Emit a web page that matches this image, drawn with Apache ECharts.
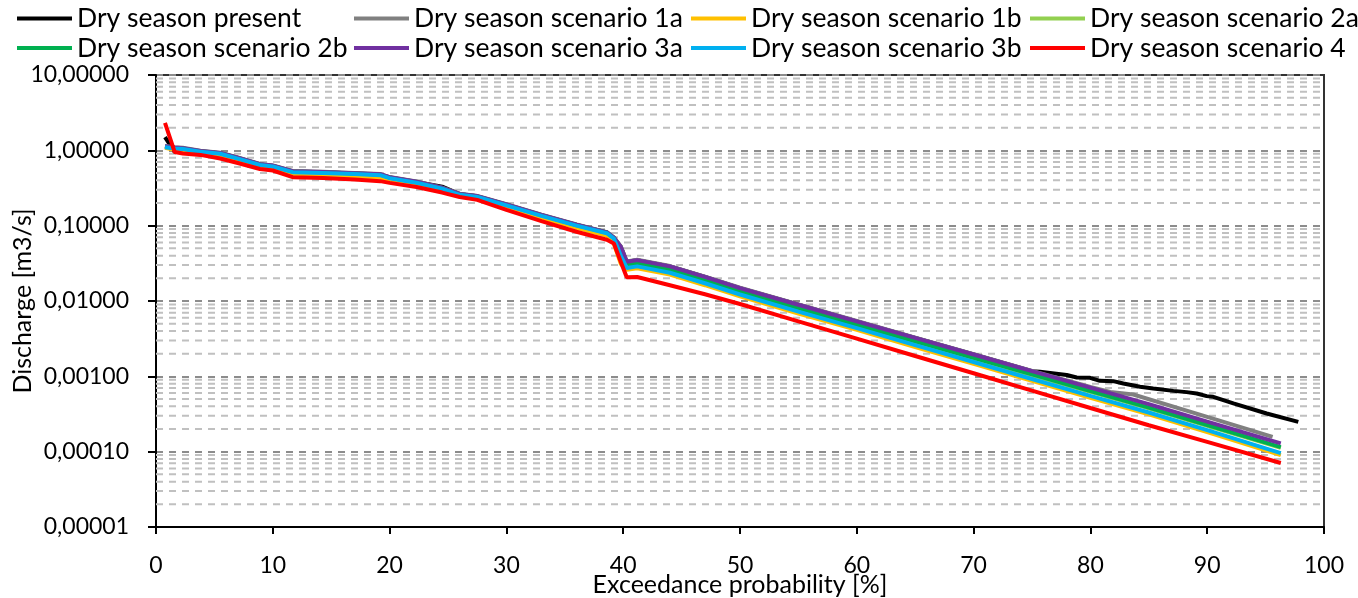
<!DOCTYPE html>
<html><head><meta charset="utf-8">
<script src="https://cdn.jsdelivr.net/npm/echarts@6/dist/echarts.min.js"></script>
<style>html,body{margin:0;padding:0;background:#fff}#c{width:1358px;height:598px}</style>
</head><body><div id="c"></div>
<script>
// Exceedance probability [%] sample points (shared by scenarios)
const X = [0.77,1.6,2.3,3.8,5.5,7.0,8.9,10.0,11.7,14.3,17.0,19.2,20.0,22.3,24.5,26.0,27.5,30.0,33.0,36.0,38.6,39.2,39.8,40.3,41.2,44.0,47.0,50.0,55.0,60.0,65.0,70.0,75.0,80.0,85.0,90.0,96.3];

// Dry season present
const xPresent = [0.77,1.6,2.3,3.8,5.5,7.0,8.9,10.0,11.7,14.3,17.0,19.2,20.0,22.3,24.5,26.0,27.5,30.0,33.0,36.0,38.6,39.2,39.8,40.3,41.2,44.0,47.0,50.0,55.0,60.0,65.0,70.0,75.0,
  75.68,77.97,78.83,79.97,80.82,81.96,82.82,84.25,85.38,87.1,88.24,89.1,89.96,90.52,92.24,95.09,97.8];
const yPresent = [1.5,0.95,1.0,0.96,0.915,0.79,0.65,0.62,0.522,0.51,0.493,0.476,0.435,0.38,0.33,0.262,0.245,0.19,0.138,0.102,0.081,0.069,
  0.052,0.0331,0.0349,0.0288,0.0209,0.0148,0.00891,0.00537,0.00324,0.00195,0.00117,
  0.00115,0.00104,0.000966,0.000955,0.000871,0.000863,0.000803,0.000726,0.00069,0.000641,0.000617,0.000592,0.000546,0.000535,0.000437,0.000321,0.000249];

// Scenario 1a
const x1a = [0.77,1.6,2.3,3.8,5.5,7.0,8.9,10.0,11.7,14.3,17.0,19.2,20.0,22.3,24.5,26.0,27.5,30.0,33.0,36.0,38.6,39.2,39.8,40.3,41.2,44.0,47.0,50.0,55.0,60.0,65.0,70.0,75.0,80.0,
  81.7,83.67,90.0,95.6];
const y1a = [1.14,1.10,1.08,0.988,0.93,0.803,0.66,0.631,0.531,0.518,0.501,0.484,0.442,0.385,0.32,0.266,0.248,0.193,0.14,0.104,0.082,0.070,
  0.053,0.0335,0.0352,0.0291,0.0211,0.0150,0.0090,0.00542,0.00327,0.00197,0.00118,0.000722,
  0.000622,0.000574,0.000289,0.000157];

const y1b = [1.08,1.02,1.0,0.91,0.85,0.73,0.60,0.57,0.48,0.465,0.45,0.435,0.40,0.35,0.29,0.245,0.228,0.176,0.127,0.094,0.074,0.058,
  0.031,0.026,0.0272,0.0224,0.0162,0.0115,0.00683,0.00413,0.00245,0.00146,0.000871,0.000519,0.000312,0.000182,0.0000902];
const y2a = [1.11,1.07,1.05,0.964,0.909,0.784,0.644,0.616,0.518,0.506,0.489,0.472,0.432,0.375,0.312,0.259,0.243,0.188,0.137,0.101,0.080,0.068,
  0.046,0.0294,0.0308,0.0254,0.0183,0.0130,0.00784,0.00472,0.00285,0.00172,0.00103,0.000622,0.000375,0.00022,0.000112];
const y2b = [1.12,1.08,1.06,0.974,0.918,0.792,0.651,0.622,0.523,0.511,0.494,0.477,0.436,0.379,0.315,0.262,0.245,0.190,0.138,0.102,0.081,0.069,
  0.048,0.0302,0.0316,0.0260,0.0188,0.0133,0.00804,0.00484,0.00292,0.00176,0.00106,0.000638,0.000385,0.000226,0.000115];
const y3a = [1.13,1.09,1.07,0.982,0.925,0.798,0.656,0.627,0.527,0.515,0.498,0.481,0.439,0.382,0.318,0.264,0.247,0.191,0.139,0.103,0.0816,0.0695,
  0.052,0.0331,0.0349,0.0288,0.0209,0.0148,0.00891,0.00537,0.00324,0.00195,0.00117,0.000708,0.000427,0.000251,0.000129];
const y3b = [1.10,1.06,1.04,0.955,0.90,0.776,0.638,0.61,0.513,0.501,0.484,0.468,0.427,0.372,0.309,0.257,0.240,0.186,0.135,0.100,0.0794,0.0676,
  0.0398,0.0275,0.0288,0.0237,0.0172,0.0122,0.00724,0.00437,0.0026,0.00155,0.000923,0.00055,0.000331,0.000193,0.0000955];
const y4 = [2.31,0.95,0.91,0.87,0.78,0.68,0.565,0.54,0.44,0.43,0.41,0.39,0.37,0.326,0.275,0.24,0.22,0.162,0.115,0.083,0.065,0.058,
  0.033,0.0207,0.0208,0.0162,0.0123,0.00912,0.00537,0.00316,0.00186,0.0011,0.000646,0.00038,0.000224,0.000135,0.0000708];

const seriesNames = ['Dry season present','Dry season scenario 1a','Dry season scenario 1b','Dry season scenario 2a',
  'Dry season scenario 2b','Dry season scenario 3a','Dry season scenario 3b','Dry season scenario 4'];
const seriesColors = ['#000000','#808080','#FFC000','#92D050','#00B050','#7030A0','#00B0F0','#FF0000'];
const seriesX = [xPresent, x1a, X, X, X, X, X, X];
const seriesY = [yPresent, y1a, y1b, y2a, y2b, y3a, y3b, y4];

// minor log gridline positions (2..9 x each decade) and x extent of the plot
const xRange = [0, 100];
const minorGrid = [];
for (let e = -5; e <= 0; e++) for (let k = 2; k <= 9; k++) minorGrid.push(+(k * Math.pow(10, e)).toPrecision(3));

const FONT = 'Lato';
const txt = (size) => ({fontFamily: FONT, fontSize: size, color: '#000'});

const chart = echarts.init(document.getElementById('c'));

const legendCommon = {orient: 'vertical', top: 5, itemGap: 2.5, itemWidth: 55, itemHeight: 4, icon: 'rect', padding: 0,
  textStyle: txt(26.5), selectedMode: false};
const legendCols = [
  {left: 17, data: [seriesNames[0], seriesNames[4]]},
  {left: 354, data: [seriesNames[1], seriesNames[5]]},
  {left: 691, data: [seriesNames[2], seriesNames[6]]},
  {left: 1030, data: [seriesNames[3], seriesNames[7]]}
];

const series = [];
minorGrid.forEach(v => {
  series.push({
    type: 'line', silent: true, z: 1, symbol: 'none', showSymbol: false,
    data: [[xRange[0], v], [xRange[1], v]],
    lineStyle: {color: '#c0c0c0', width: 2, type: [7, 6]},
    emphasis: {disabled: true}, tooltip: {show: false}
  });
});
seriesNames.forEach((n, i) => {
  series.push({
    name: n, type: 'line', symbol: 'none', showSymbol: false, z: 2,
    data: seriesX[i].map((x, j) => [x, seriesY[i][j]]),
    lineStyle: {color: seriesColors[i], width: 4},
    itemStyle: {color: seriesColors[i]},
    emphasis: {disabled: true}
  });
});

chart.setOption({
  animation: false,
  backgroundColor: '#fff',
  grid: {left: 156, right: 34, top: 75, bottom: 71, show: true, borderColor: '#333', borderWidth: 2,
    containLabel: false, outerBoundsMode: 'none'},
  legend: legendCols.map(c => Object.assign({}, legendCommon, c)),
  xAxis: {
    type: 'value', min: xRange[0], max: xRange[1], interval: 10,
    axisLine: {show: true, lineStyle: {color: '#000', width: 2}},
    axisTick: {show: true, length: 7, lineStyle: {color: '#000', width: 2}},
    axisLabel: Object.assign({margin: 27}, txt(23)),
    splitLine: {show: false},
    name: 'Exceedance probability [%]', nameLocation: 'middle', nameGap: 45, nameMoveOverlap: false,
    nameTextStyle: txt(25)
  },
  yAxis: {
    type: 'log', logBase: 10, min: 0.00001, max: 10,
    axisLine: {show: true, lineStyle: {color: '#000', width: 2}},
    axisTick: {show: true, length: 8, lineStyle: {color: '#000', width: 2}},
    axisLabel: Object.assign({margin: 27, formatter: v => Number(v).toFixed(5).replace('.', ',')}, txt(23)),
    splitLine: {show: true, lineStyle: {color: '#8c8c8c', width: 2, type: [7, 6]}},
    minorTick: {show: false}, minorSplitLine: {show: false},
    name: 'Discharge [m3/s]', nameLocation: 'middle', nameGap: 121, nameMoveOverlap: false,
    nameTextStyle: txt(25)
  },
  series: series
});
</script></body></html>
